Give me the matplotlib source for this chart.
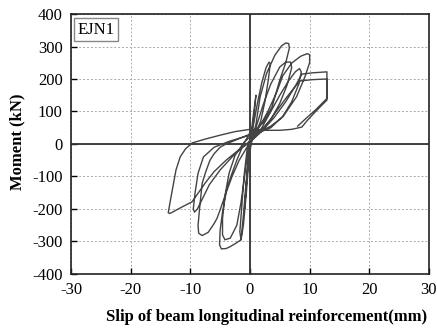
import matplotlib
matplotlib.use("Agg")
import matplotlib.pyplot as plt

plt.rcParams['font.family'] = ['Liberation Serif', 'DejaVu Serif']
plt.rcParams['axes.unicode_minus'] = False

# Hysteresis path (slip in mm, moment in kN)
slip = [
    # small elastic cycle
    0.0, 0.5, 1.0, 0.7, 0.2, -0.3, -0.7, -0.9, -0.6, -0.2, 0.0,
    # cycle ~3 mm
    0.6, 1.3, 2.0, 2.7, 3.2, 3.4, 3.1, 2.5, 1.8, 1.0, 0.0, -0.5, -1.0, -1.4, -1.7, -1.5, -1.1, -0.6, -0.2, 0.2,
    # cycle ~6.5 mm
    1.0, 1.7, 2.8, 4.2, 5.3, 6.0, 6.5, 6.6, 6.0, 5.0, 3.7, 2.2, 1.0, 0.0, -1.2, -2.2, -3.2, -3.9, -4.6, -5.0, -5.1, -4.8,
    -4.0, -3.3, -2.3, -1.5, -1.1, -0.7, -0.3, 0.2,
    # second cycle ~6.5 mm
    1.0, 2.2, 3.5, 5.0, 6.0, 6.8, 7.0, 6.2, 5.0, 3.5, 2.0, 0.5, -1.0, -2.5, -3.5, -4.2, -4.6, -4.6, -4.2, -3.3, -2.2,
    -1.5, -0.9, -0.4, 0.2,
    # cycle ~10 mm
    1.5, 3.0, 4.5, 5.5, 7.0, 8.5, 9.6, 10.0, 10.0, 9.2, 7.8, 5.5, 3.5, 2.2, 0.0, -2.0, -4.0, -5.0, -6.0, -6.7, -7.4,
    -8.0, -8.4, -8.7, -8.6, -8.0, -7.0, -6.0, -5.5, -5.0, -4.0, -3.0, -1.8, -0.5, 0.5,
    # second cycle ~9 mm
    2.0, 3.5, 5.0, 6.5, 7.6, 8.3, 8.6, 8.2, 7.0, 5.5, 3.5, 1.5, -1.0, -3.5, -6.0, -7.8, -8.7, -9.2, -9.5, -9.3, -8.8,
    -8.0, -6.8, -5.0, -3.0, -1.0, 0.5,
    # cycle ~13 mm
    2.0, 4.0, 6.0, 7.5, 8.7, 10.5, 12.9, 12.9, 12.9, 11.0, 9.5, 8.7, 7.0, 5.0, 3.0, 0.0, -2.5, -5.0, -7.5, -9.7,
    -10.8, -11.7, -12.4, -12.9, -13.4, -13.7, -13.4, -11.5, -9.7, -8.9, -7.5, -6.0, -4.0, -2.0, 0.0,
    # final loading
    2.0, 4.0, 6.0, 7.5, 8.4, 10.5, 12.9, 12.9, 12.9, 11.0, 9.0, 8.0,
]
moment = [
    0, 80, 150, 90, 20, -60, -150, -200, -120, -30, 0,
    60, 130, 190, 235, 252, 248, 200, 130, 70, 35, 15, -20, -100, -200, -270, -295, -250, -150, -50, 0,
    60, 145, 218, 274, 302, 311, 309, 295, 250, 197, 114, 65, 45, 35, -5, -50, -100, -140, -210, -265, -310, -323,
    -322, -316, -305, -295, -220, -130, -50, 10,
    50, 120, 185, 237, 252, 252, 235, 180, 125, 75, 45, 30, 5, -35, -90, -160, -230, -280, -295, -290, -250,
    -180, -100, -30, 10,
    50, 100, 160, 210, 249, 270, 278, 275, 250, 206, 145, 83, 55, 43, 30, 15, 0, -10, -30, -50, -85,
    -120, -190, -250, -275, -282, -272, -245, -228, -203, -150, -100, -50, -10, 15,
    50, 100, 150, 195, 222, 232, 222, 185, 130, 85, 50, 35, 22, 8, -10, -40, -90, -150, -200, -210, -200,
    -170, -125, -80, -40, -5, 15,
    40, 80, 130, 175, 215, 219, 222, 180, 135, 100, 70, 52, 45, 42, 42, 45, 38, 27, 15, 3,
    -15, -40, -80, -130, -180, -212, -214, -195, -178, -157, -120, -85, -50, -20, 5,
    40, 90, 140, 175, 194, 198, 200, 165, 140, 105, 72, 55,
]

xticks = [-30, -20, -10, 0, 10, 20, 30]
yticks = [-400, -300, -200, -100, 0, 100, 200, 300, 400]

fig = plt.figure(figsize=(4.37, 3.34), dpi=100)
ax = fig.add_axes([0.1625, 0.180, 0.819, 0.778])

ax.plot(slip, moment, color='#444444', lw=1.0, zorder=3)
ax.axhline(0, color='#333333', lw=1.3, zorder=2)
ax.axvline(0, color='#333333', lw=1.3, zorder=2)

ax.set_xlim(-30, 30)
ax.set_ylim(-400, 400)
ax.set_xticks(xticks)
ax.set_yticks(yticks)
ax.grid(True, linestyle=(0, (2, 2)), color='#aaaaaa', lw=0.7, zorder=1)
ax.tick_params(direction='in', length=4, width=1.0, labelsize=12)
ax.tick_params(axis='x', pad=6)
ax.tick_params(axis='y', pad=6)
for s in ax.spines.values():
    s.set_linewidth(1.2)
    s.set_color('#222222')

ax.set_xlabel('Slip of beam longitudinal reinforcement(mm)', fontsize=12,
              fontweight='bold')
ax.xaxis.set_label_coords(0.545, -0.135)
ax.set_ylabel('Moment (kN)', fontsize=12, fontweight='bold')
ax.yaxis.set_label_coords(-0.128, 0.51)

ax.text(-28.9, 376, 'EJN1', fontsize=12, va='top', ha='left', zorder=5,
        bbox=dict(boxstyle='square,pad=0.2', facecolor='white',
                  edgecolor='#888888', lw=1.0))

fig.savefig('out.png', dpi=100)
